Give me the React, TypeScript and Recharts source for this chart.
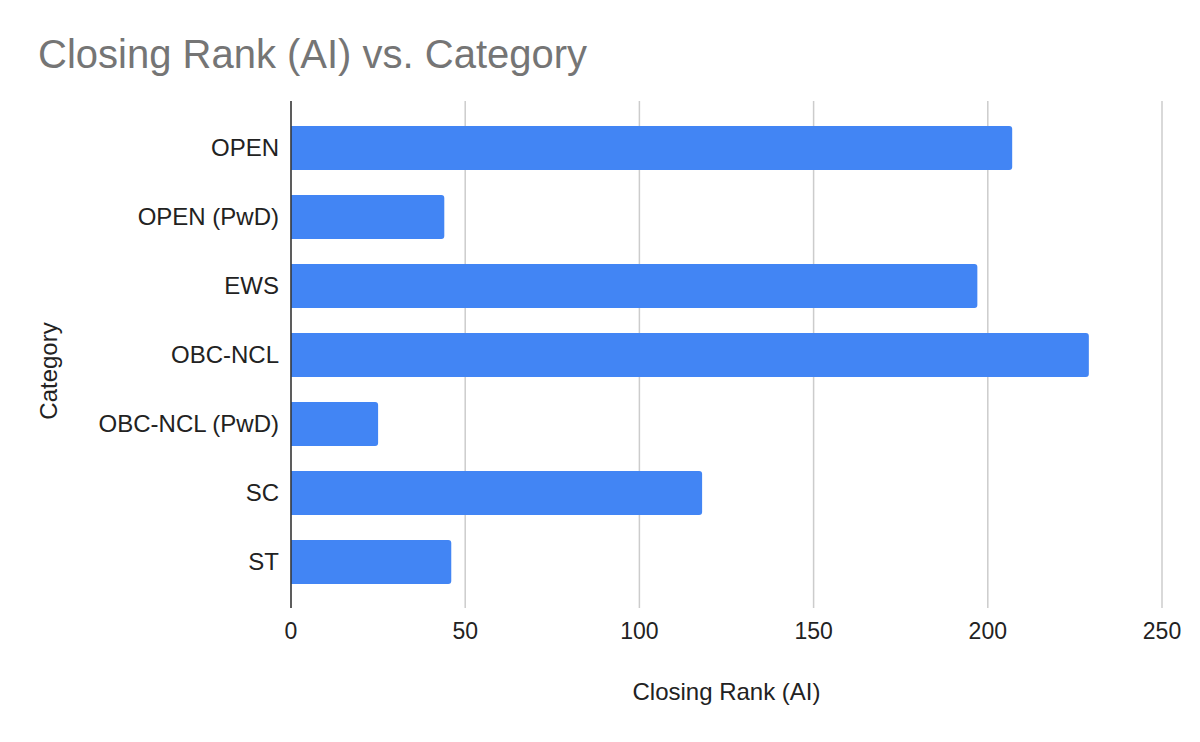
import { BarChart, Bar, XAxis, YAxis, CartesianGrid, Label } from "recharts";

const categories = ["OPEN", "OPEN (PwD)", "EWS", "OBC-NCL", "OBC-NCL (PwD)", "SC", "ST"];
const closingRanks = [207, 44, 197, 229, 25, 118, 46];
const xTicks = [0, 50, 100, 150, 200, 250];

const data = categories.map((category, i) => ({ category, rank: closingRanks[i] }));

const FONT = "'Liberation Sans', Arial, sans-serif";

export default function App() {
  return (
    <div style={{ position: "absolute", left: 0, top: 0, width: 1200, height: 742, background: "#fff", fontFamily: FONT }}>
      <div style={{ position: "absolute", left: 38, top: 32, fontSize: 40, color: "#757575", whiteSpace: "nowrap" }}>
        Closing Rank (AI) vs. Category
      </div>
      <BarChart
        width={1200}
        height={742}
        data={data}
        layout="vertical"
        margin={{ top: 101, right: 38, bottom: 0, left: 0 }}
        barSize={44}
      >
        <CartesianGrid horizontal={false} stroke="#cccccc" strokeWidth={1.5} />
        <XAxis
          type="number"
          domain={[0, 250]}
          ticks={xTicks}
          axisLine={false}
          tickLine={false}
          tickMargin={9}
          height={134}
          tick={{ fontSize: 23, fill: "#222", fontFamily: FONT }}
        >
          <Label value="Closing Rank (AI)" position="insideTop" offset={75} style={{ fontSize: 24, fill: "#222", fontFamily: FONT }} />
        </XAxis>
        <YAxis
          type="category"
          dataKey="category"
          width={291}
          padding={{ top: 12, bottom: 12 }}
          axisLine={{ stroke: "#333", strokeWidth: 1.5 }}
          tickLine={false}
          tickMargin={6}
          tick={{ fontSize: 24, fill: "#222", fontFamily: FONT }}
        >
          <Label
            content={() => (
              <text
                x={48}
                y={371}
                transform="rotate(-90, 48, 371)"
                textAnchor="middle"
                dominantBaseline="central"
                style={{ fontSize: 24, fill: "#222", fontFamily: FONT }}
              >
                Category
              </text>
            )}
          />
        </YAxis>
        <Bar dataKey="rank" fill="#4285f4" radius={[0, 3, 3, 0]} isAnimationActive={false} />
      </BarChart>
    </div>
  );
}
